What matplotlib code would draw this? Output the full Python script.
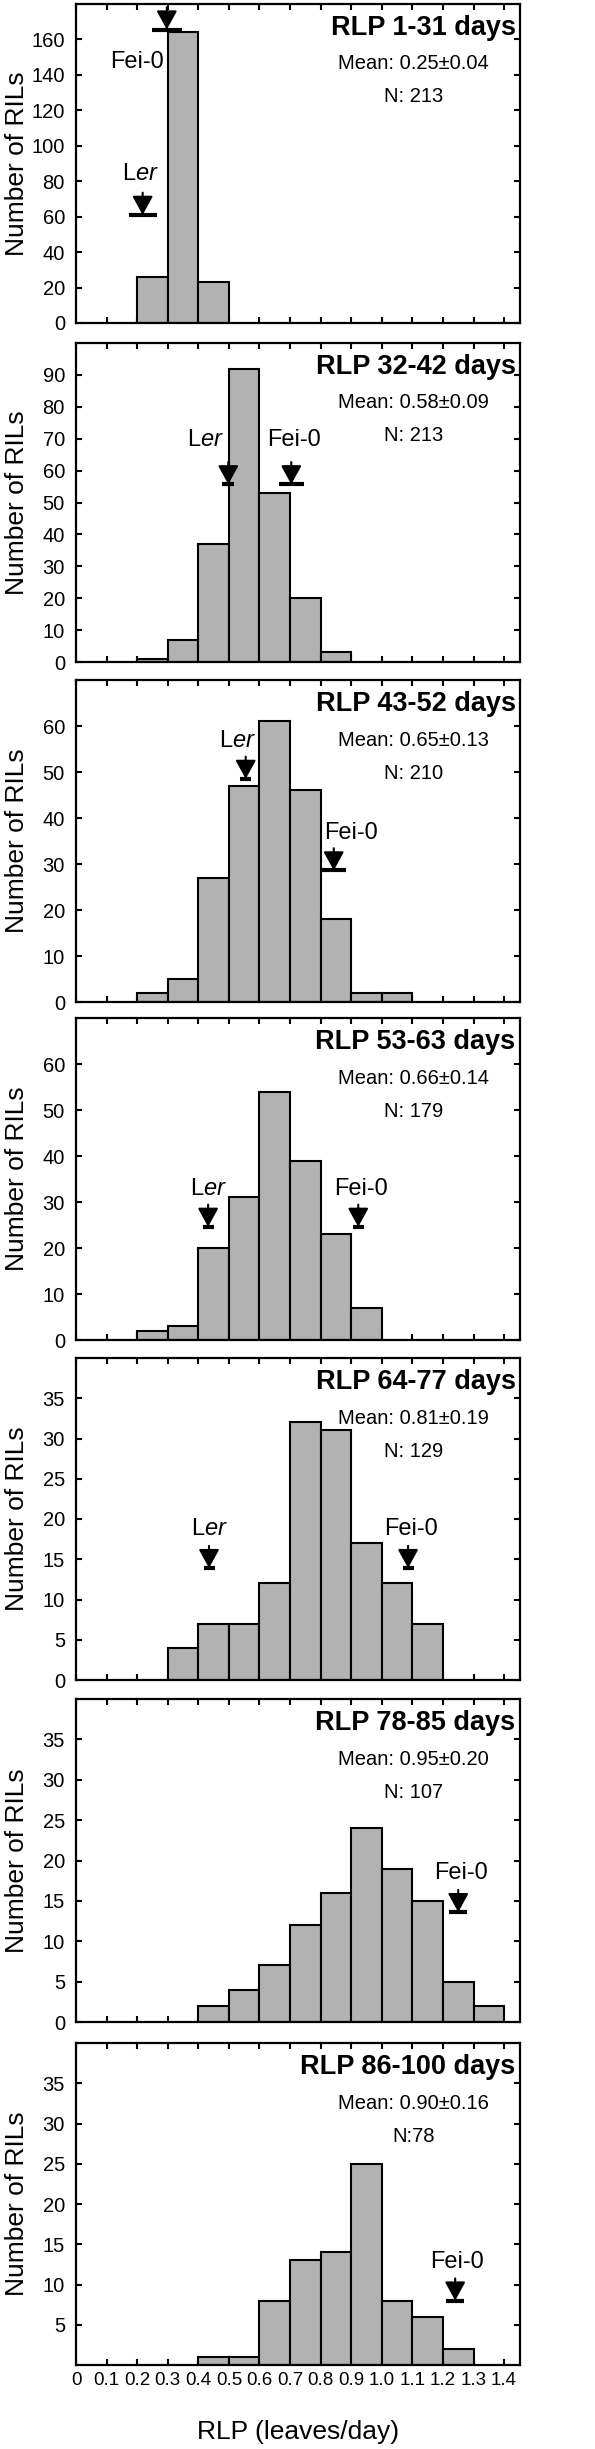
import numpy as np
import matplotlib
matplotlib.use("Agg")
import matplotlib.pyplot as plt

plt.rcParams['font.family'] = ['Liberation Sans', 'DejaVu Sans']
plt.rcParams['mathtext.fontset'] = 'custom'
plt.rcParams['mathtext.rm'] = 'Liberation Sans'
plt.rcParams['mathtext.it'] = 'Liberation Sans:italic'
plt.rcParams['mathtext.bf'] = 'Liberation Sans:bold'

# bins of RLP (leaves/day), left edges
bin_left = np.round(np.arange(0, 1.4, 0.1), 1)

periods = ["RLP 1-31 days", "RLP 32-42 days", "RLP 43-52 days", "RLP 53-63 days",
           "RLP 64-77 days", "RLP 78-85 days", "RLP 86-100 days"]
mean_txt = ["Mean: 0.25\u00b10.04", "Mean: 0.58\u00b10.09", "Mean: 0.65\u00b10.13",
            "Mean: 0.66\u00b10.14", "Mean: 0.81\u00b10.19", "Mean: 0.95\u00b10.20",
            "Mean: 0.90\u00b10.16"]
n_txt = ["N: 213", "N: 213", "N: 210", "N: 179", "N: 129", "N: 107", "N:78"]

counts = [
    [0, 0, 26, 164, 23, 0, 0, 0, 0, 0, 0, 0, 0, 0],
    [0, 0, 1, 7, 37, 92, 53, 20, 3, 0, 0, 0, 0, 0],
    [0, 0, 2, 5, 27, 47, 61, 46, 18, 2, 2, 0, 0, 0],
    [0, 0, 2, 3, 20, 31, 54, 39, 23, 7, 0, 0, 0, 0],
    [0, 0, 0, 4, 7, 7, 12, 32, 31, 17, 12, 7, 0, 0],
    [0, 0, 0, 0, 2, 4, 7, 12, 16, 24, 19, 15, 5, 2],
    [0, 0, 0, 0, 1, 1, 8, 13, 14, 25, 8, 6, 2, 0],
]
y_max = [180, 100, 70, 70, 40, 40, 40]
y_step = [20, 10, 10, 10, 5, 5, 5]
y_first = [0, 0, 0, 0, 0, 0, 5]
y_last = [160, 90, 60, 60, 35, 35, 35]

# parental lines: (x, y of bar, half width, label x, label y); None = not shown
ler_mark = [(0.218, 61, 0.046, 0.21, 84),
            (0.498, 55.7, 0.02, 0.424, 69.5),
            (0.555, 48.5, 0.018, 0.528, 56.7),
            (0.432, 24.6, 0.018, 0.432, 32.9),
            (0.435, 13.9, 0.018, 0.435, 18.7),
            None, None]
fei_mark = [(0.297, 165.6, 0.049, 0.20, 147),
            (0.704, 55.7, 0.04, 0.713, 69.5),
            (0.843, 28.6, 0.041, 0.899, 36.8),
            (0.923, 24.6, 0.018, 0.931, 32.9),
            (1.086, 13.9, 0.018, 1.094, 18.7),
            (1.25, 13.6, 0.03, 1.26, 18.4),
            (1.24, 8.0, 0.03, 1.245, 12.8)]

W, H = 595, 2449
tops = [4, 343, 680, 1018, 1358, 1699, 2043]
bottoms = [323, 662, 1002, 1340, 1680, 2022, 2365]
left, right = 76, 520

fig = plt.figure(figsize=(W / 100, H / 100), dpi=100)


def parent(ax, m, label):
    if m is None:
        return
    x, y, hw, lx, ly = m
    ax.errorbar(x, y, xerr=hw, fmt='none', ecolor='black', elinewidth=3, capsize=0)
    ax.annotate('', xy=(x, y), xytext=(0, 16), textcoords='offset points',
                xycoords='data',
                arrowprops=dict(arrowstyle='-|>,head_length=11.5,head_width=6.3',
                                mutation_scale=1, color='black', lw=1.5,
                                shrinkA=0, shrinkB=0))
    ax.text(lx, ly, label, ha='center', va='center', fontsize=17)


for i in range(7):
    ax = fig.add_axes([left / W, 1 - bottoms[i] / H, (right - left) / W,
                       (bottoms[i] - tops[i]) / H])
    c = np.array(counts[i])
    nz = c > 0
    ax.bar(bin_left[nz], c[nz], width=0.1, align='edge', color='#b2b2b2',
           edgecolor='black', linewidth=1.5, zorder=2)
    ax.set_xlim(0, 1.452)
    ax.set_ylim(0, y_max[i])
    ax.set_xticks(np.round(np.arange(0, 1.41, 0.1), 1))
    ax.set_yticks(np.arange(y_first[i], y_last[i] + 1, y_step[i]))
    ax.tick_params(direction='in', top=True, right=True, length=4, width=1.5,
                   labelsize=14.5, pad=8)
    for s in ax.spines.values():
        s.set_linewidth(1.6)
    if i < 6:
        ax.set_xticklabels([])
    else:
        xl = ['0'] + ['%.1f' % v for v in np.arange(0.1, 1.41, 0.1)]
        ax.set_xticklabels(xl, fontsize=13.5)
        ax.tick_params(axis='x', pad=5)
        ax.set_xlabel("RLP (leaves/day)", fontsize=19, labelpad=22)
    ax.set_ylabel("Number of RILs", fontsize=19)
    ax.yaxis.set_label_coords(-0.105, 0.5)

    ax.text(0.99, 0.925, periods[i], transform=ax.transAxes, ha='right',
            va='center', fontsize=19.5, fontweight='bold')
    ax.text(0.76, 0.8125, mean_txt[i], transform=ax.transAxes, ha='center',
            va='center', fontsize=14.5)
    ax.text(0.76, 0.71, n_txt[i], transform=ax.transAxes, ha='center',
            va='center', fontsize=14.5)

    parent(ax, ler_mark[i], 'L$\\mathit{er}$')
    parent(ax, fei_mark[i], 'Fei-0')

fig.savefig("out.png", dpi=100)
